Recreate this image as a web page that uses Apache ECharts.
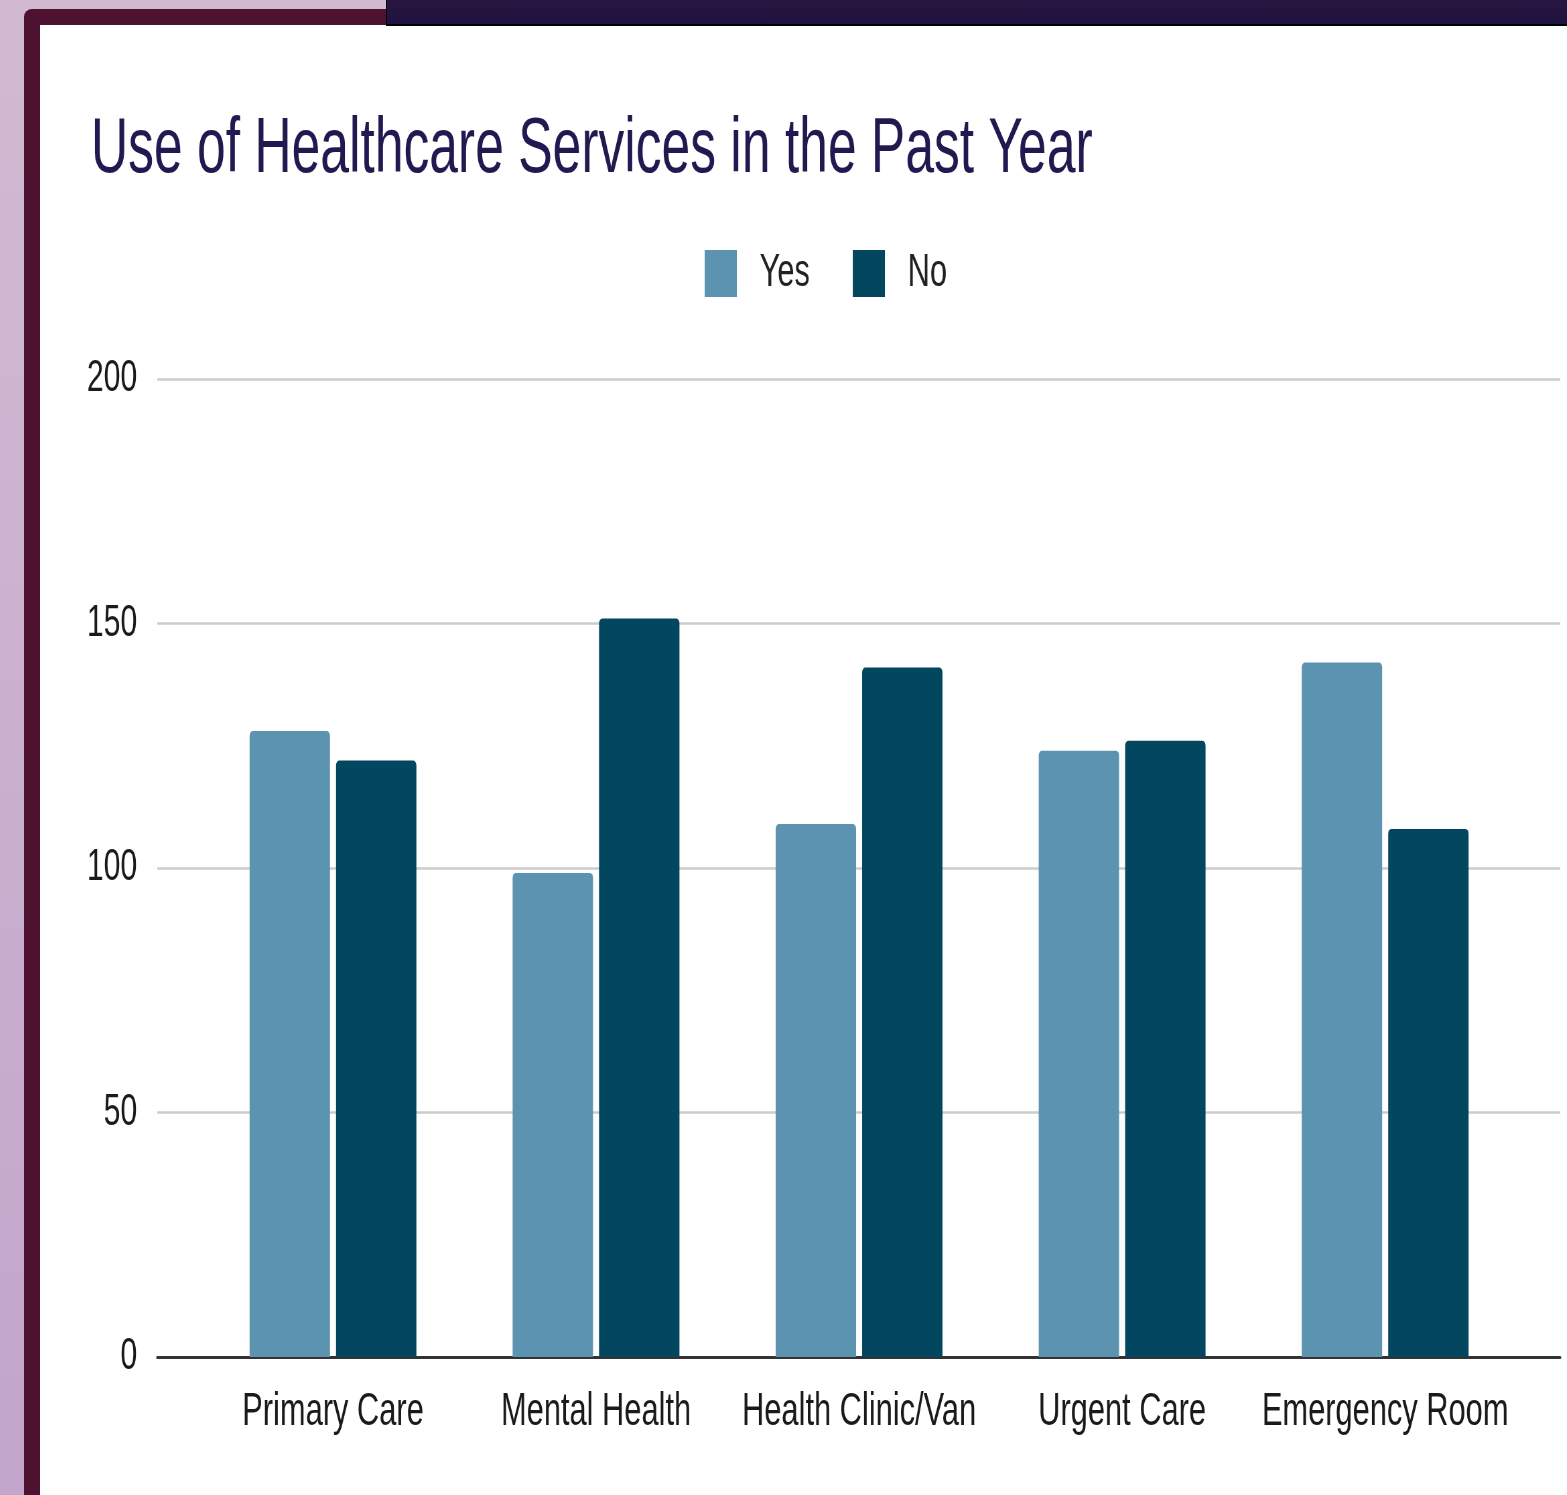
<!DOCTYPE html>
<html lang="en">
<head>
<meta charset="utf-8">
<title>Use of Healthcare Services in the Past Year</title>
<script src="https://cdn.jsdelivr.net/npm/echarts@6/dist/echarts.min.js"></script>
<style>
	html, body { margin: 0; padding: 0; width: 1567px; height: 1495px; overflow: hidden; }
	body { background: linear-gradient(#d2bad2, #c2a6cb); position: relative; }
	.frame { position: absolute; left: 24px; top: 9px; right: 0; bottom: 0; background: #4d1230; border-top-left-radius: 8px; }
	.sheet { position: absolute; left: 40px; top: 25px; right: 0; bottom: 0; background: #ffffff; }
	.topbar { position: absolute; left: 386px; top: 0; right: 0; height: 24px; background: linear-gradient(#27163f, #1f1140); border-bottom: 2px solid #000; border-left: 1px solid #000; }
	/* the source picture is squeezed sideways, so the chart is drawn wide and scaled down */
	#chart { position: absolute; left: 40px; top: 25px; width: 2279px; height: 1470px; transform: scaleX(0.67); transform-origin: 0 0; }
</style>
</head>
<body>
	<div class="frame"></div>
	<div class="sheet"></div>
	<div class="topbar"></div>
	<div id="chart"></div>
	<script type="text/javascript">
		var categories = [ 'Primary Care', 'Mental Health', 'Health Clinic/Van', 'Urgent Care', 'Emergency Room' ];
		var yesValues = [ 128, 99, 109, 124, 142 ];
		var noValues = [ 122, 151, 141, 126, 108 ];
		var yTicks = [ 0, 50, 100, 150, 200 ];

		var FONT = 'Liberation Sans, Arial, Helvetica, sans-serif';

		var chart = echarts.init(document.getElementById('chart'));

		var option = {
			backgroundColor : 'transparent',
			animation : false,
			title : {
				text : 'Use of Healthcare Services in the Past Year',
				left : 76,
				top : 87,
				padding : 0,
				textStyle : {
					color : '#201a50',
					fontFamily : FONT,
					fontWeight : 'normal',
					fontSize : 77
				}
			},
			legend : {
				data : [ 'Yes', 'No' ],
				left : 992,
				top : 225,
				padding : 0,
				icon : 'rect',
				itemWidth : 48,
				itemHeight : 47,
				itemGap : 64,
				textStyle : {
					color : '#222222',
					fontFamily : FONT,
					fontSize : 46,
					padding : [ 4, 0, 0, 29 ]
				}
			},
			// grid 0 carries the long gridlines and baseline, grid 1 the bars
			grid : [
				{ left : 175, right : 10, top : 354, bottom : 138 },
				{ left : 241, right : 75, top : 354, bottom : 138 }
			],
			xAxis : [ {
				gridIndex : 0,
				type : 'category',
				data : categories,
				axisLine : { show : true, lineStyle : { color : '#333333', width : 3 } },
				axisTick : { show : false },
				axisLabel : { show : false },
				splitLine : { show : false }
			}, {
				gridIndex : 1,
				type : 'category',
				data : categories,
				axisLine : { show : false },
				axisTick : { show : false },
				axisLabel : {
					interval : 0,
					margin : 32,
					color : '#1a1a1a',
					fontFamily : FONT,
					fontSize : 46
				}
			} ],
			yAxis : [ {
				gridIndex : 0,
				type : 'value',
				min : yTicks[0],
				max : yTicks[yTicks.length - 1],
				interval : 50,
				axisLine : { show : false },
				axisTick : { show : false },
				axisLabel : {
					margin : 30,
					color : '#1a1a1a',
					fontFamily : FONT,
					fontSize : 45
				},
				splitLine : { lineStyle : { color : '#cccccc', width : 2.5 } }
			}, {
				gridIndex : 1,
				type : 'value',
				min : yTicks[0],
				max : yTicks[yTicks.length - 1],
				show : false,
				splitLine : { show : false }
			} ],
			series : [ {
				name : 'Yes',
				type : 'bar',
				xAxisIndex : 1,
				yAxisIndex : 1,
				data : yesValues,
				barWidth : 120,
				barGap : '7.5%',
				itemStyle : { color : '#5b93b1', borderRadius : [ 5, 5, 0, 0 ] }
			}, {
				name : 'No',
				type : 'bar',
				xAxisIndex : 1,
				yAxisIndex : 1,
				data : noValues,
				barWidth : 120,
				barGap : '7.5%',
				itemStyle : { color : '#03465f', borderRadius : [ 5, 5, 0, 0 ] }
			} ]
		};

		chart.setOption(option);
	</script>
</body>
</html>
